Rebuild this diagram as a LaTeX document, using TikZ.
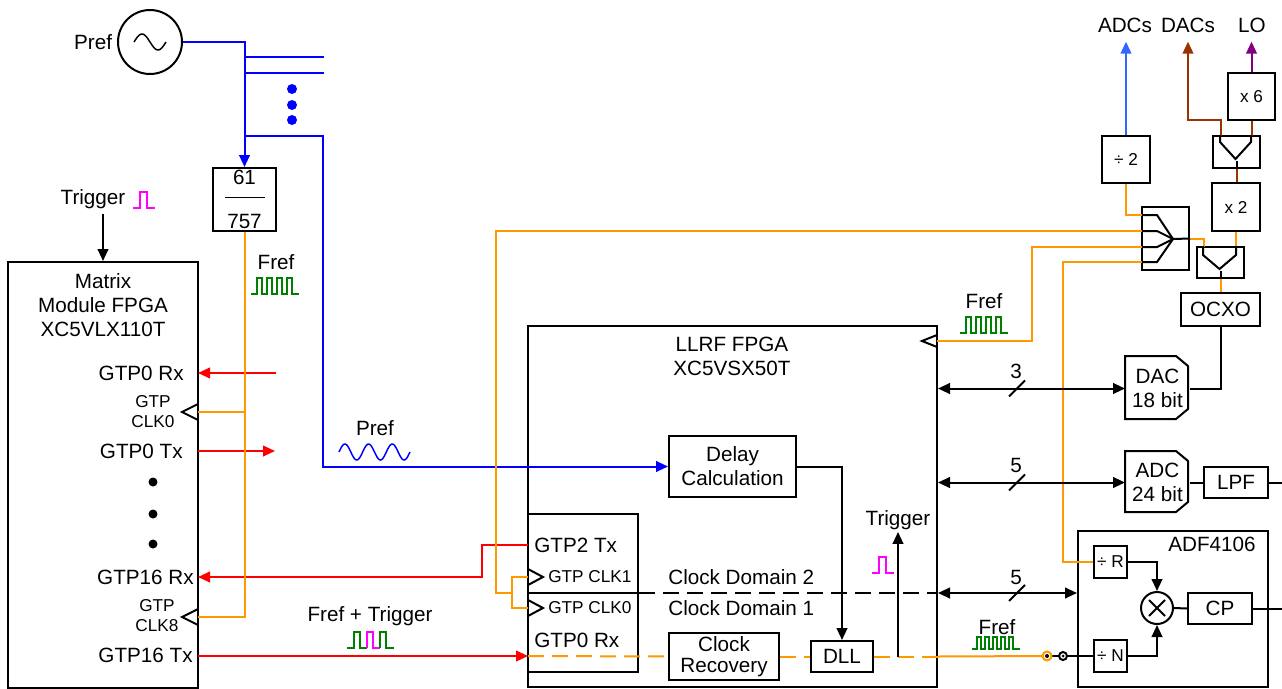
\documentclass[tikz,border=0pt]{standalone}
\usepackage{fontspec}
\setmainfont{Liberation Sans}
\usetikzlibrary{arrows.meta,positioning}

\definecolor{prefblue}{RGB}{0,0,255}
\definecolor{adcblue}{RGB}{51,102,255}
\definecolor{frefor}{RGB}{255,153,0}
\definecolor{gtpred}{RGB}{255,0,0}
\definecolor{clkgreen}{RGB}{0,128,0}
\definecolor{trigmag}{RGB}{255,0,255}
\definecolor{dacbrown}{RGB}{153,51,0}
\definecolor{lopurple}{RGB}{128,0,128}

\tikzset{every picture/.style={line width=1.5pt}}
\tikzset{
	blk/.style={draw, rectangle, inner sep=0pt, align=center},
	lbl/.style={inner sep=1pt, align=center},
	toplbl/.style={inner sep=3pt, outer sep=4pt},
	pinlbl/.style={inner sep=1pt, anchor=east},
	smalltxt/.style={font=\fontsize{12.9}{15}\selectfont},
	ordash/.style={frefor, dash pattern=on 12pt off 6pt},
	blkdash/.style={dash pattern=on 12pt off 6pt},
	refclk/.pic={\draw[clkgreen, line width=1.1pt] (0,0) -- ++(6,0) foreach \i in {1,...,4}{ -- ++(0,16) -- ++(5,0) -- ++(0,-16) -- ++(5,0)} -- ++(2,0);},
	refclkfast/.pic={\draw[clkgreen, line width=1.1pt] (0,0) -- ++(5,0) foreach \i in {1,...,5}{ -- ++(0,12) -- ++(4,0) -- ++(0,-12) -- ++(4,0)} -- ++(3,0);},
	trigpulse/.pic={\draw[trigmag, line width=1.1pt] (0,0) -- (7,0) -- (7,16) -- (14,16) -- (14,0) -- (22,0);}
}

\begin{document}
\begin{tikzpicture}[x=0.75pt,y=0.75pt,yscale=-1,xscale=1,
	font=\fontsize{15.5}{18}\selectfont, >={Triangle[length=9pt,width=8pt]}]
	\useasboundingbox (0,0) rectangle (1282,689);

	%Shape: reference source
	\node[draw, circle, minimum size=48pt, inner sep=0pt] (src) at (150,42) {};
	\draw[line width=1.1pt, domain=0:360, samples=40, smooth] plot ({134+\x/360*32}, {42-8*sin(\x)});
	\node[left=2pt of src, lbl] (preflbl) {Pref};
	%Shape: divider
	\node[blk, minimum size=47.25pt] (frac) at (244.5,199.5) {61\\[15pt]757};
	\draw[line width=1.1pt] (frac.center) ++(-20,-2) -- ++(40,0);

	%Shape: Matrix module
	\node[blk, minimum width=142.5pt, minimum height=319.5pt] (mmf) at (103,475) {};
	\node[lbl] (mmftitle) at (103,305) {Matrix\\Module FPGA\\XC5VLX110T};
	\node[pinlbl] (rx0lbl) at (186,373) {GTP0 Rx};
	\node[lbl, smalltxt] (clk0lbl) at (153,412) {GTP\\CLK0};
	\node[pinlbl] (tx0lbl) at (185,451) {GTP0 Tx};
	\node[pinlbl] (rx16lbl) at (196,577) {GTP16 Rx};
	\node[lbl, smalltxt] (clk8lbl) at (157,616) {GTP\\CLK8};
	\node[pinlbl] (tx16lbl) at (195,655) {GTP16 Tx};
	\foreach \yy in {482,514,544} \fill (153,\yy) circle (4.5);
	\coordinate (mrx0) at (198,373);
	\coordinate (mclk0) at (198,412);
	\coordinate (mtx0) at (198,451);
	\coordinate (mrx16) at (198,577);
	\coordinate (mclk8) at (198,617);
	\coordinate (mtx16) at (198,656);
	\node[lbl] (trigtop) at (93,199) {Trigger};
	\pic at (133,208) {trigpulse};
	\draw[->] (mmf.north |- 0,214) -- (mmf.north);

	%Shape: LLRF FPGA
	\node[blk, minimum width=306.75pt, minimum height=270.75pt] (llrf) at (732.5,506.5) {};
	\node[lbl] (llrftitle) at (732,356) {LLRF FPGA\\XC5VSX50T};
	\node[blk, minimum width=82.5pt, minimum height=118.5pt] (gtp) at (583,593) {};
	\draw (gtp.west) -- (gtp.east);
	\node[lbl, anchor=west] (gtp2tx) at (532,545) {GTP2 Tx};
	\node[lbl, anchor=west, smalltxt] (gclk1) at (546,577) {GTP CLK1};
	\node[lbl, anchor=west, smalltxt] (gclk0) at (546,608) {GTP CLK0};
	\node[lbl, anchor=west] (gtp0rx) at (532,640) {GTP0 Rx};
	\coordinate (ltx2) at (528,545);
	\coordinate (lclk1) at (528,577);
	\coordinate (lclk0) at (528,608);
	\coordinate (lrx0) at (528,656);
	\coordinate (llclk) at (937,341);
	\node[lbl, anchor=west] (dom2) at (666,577) {Clock Domain 2};
	\node[lbl, anchor=west] (dom1) at (666,608) {Clock Domain 1};
	\node[blk, minimum width=95.25pt, minimum height=45.75pt] (delay) at (732.5,466.5) {Delay\\Calculation};
	\node[blk, minimum width=82.5pt, minimum height=35.25pt] (clkrec) at (724,656.5) {Clock\\[-2pt]Recovery};
	\node[blk, minimum width=46.5pt, minimum height=23.25pt] (dll) at (842,656.5) {DLL};
	\node[lbl] (trigll) at (898,520) {Trigger};
	\pic at (872,573) {trigpulse};

	%Shape: clock chain
	\node[blk, minimum width=59.25pt, minimum height=24.75pt] (ocxo) at (1220.5,309.5) {OCXO};
	\node[blk, minimum width=35.25pt, minimum height=23.25pt] (ylow) at (1220.5,262.5) {};
	\node[blk, smalltxt, minimum size=36pt] (x2) at (1236,207) {x 2};
	\node[blk, minimum width=35.25pt, minimum height=24pt] (yup) at (1236.5,152) {};
	\node[blk, smalltxt, minimum size=35.25pt] (x6) at (1251.5,96.5) {x 6};
	\node[blk, smalltxt, minimum width=36pt, minimum height=35.25pt] (div2) at (1126,159.5) {÷ 2};
	\node[blk, minimum width=35.25pt, minimum height=47.25pt] (fan) at (1165.5,238.5) {};
	\coordinate (fin1) at (1142,215);
	\coordinate (fin2) at (1142,231);
	\coordinate (fin3) at (1142,247);
	\coordinate (fin4) at (1142,262);
	\coordinate (fanc) at (1173,239);
	\coordinate (ylowL) at (1204,247);
	\coordinate (yupL) at (1221,136);
	\coordinate (yupR) at (1252,136);
	\node[toplbl] (adcs) at (1125,25) {ADCs};
	\node[toplbl] (dacs) at (1188,25) {DACs};
	\node[toplbl] (lo) at (1252,25) {LO};

	%Shape: converters
	\node[inner sep=0pt, align=center, minimum width=47.25pt, minimum height=47.25pt] (dac) at (1157.5,388.5) {DAC\\18 bit};
	\draw (dac.north west) -- ++(51,0) -- ++(12,10) -- ++(0,43) -- ++(-12,10) -- ++(-51,0) -- cycle;
	\node[inner sep=0pt, align=center, minimum width=47.25pt, minimum height=45.75pt] (adc) at (1157.5,482.5) {ADC\\24 bit};
	\draw (adc.north west) -- ++(51,0) -- ++(12,10) -- ++(0,41) -- ++(-12,10) -- ++(-51,0) -- cycle;
	\node[blk, minimum width=48pt, minimum height=23.25pt] (lpf) at (1236,482.5) {LPF};

	%Shape: ADF4106
	\node[blk, minimum width=142.5pt, minimum height=117pt] (adf) at (1173,609) {};
	\node[lbl] (adflbl) at (1212,544) {ADF4106};
	\node[blk, smalltxt, minimum width=24.75pt, minimum height=24pt] (divR) at (1110.5,562) {÷ R};
	\node[blk, smalltxt, minimum width=24.75pt, minimum height=24pt] (divN) at (1110.5,656) {÷ N};
	\node[draw, circle, minimum size=24pt, inner sep=0pt] (mix) at (1157,608) {};
	\draw (mix.center) ++(-8,-8) -- ++(16,16) ++(0,-16) -- ++(-16,16);
	\node[blk, minimum width=48pt, minimum height=23.25pt] (cp) at (1220,608.5) {CP};
	\coordinate (ptA) at (1047,656);
	\coordinate (ptB) at (1063,656);

	% Pref distribution
	\draw[prefblue, ->] (src.east) -| (frac.north);
	\draw[prefblue] (244.5,57) -- (324,57);
	\draw[prefblue] (244.5,73) -- (324,73);
	\foreach \yy in {89,105,120} \fill[prefblue] (292,\yy) circle (5);
	\draw[prefblue, ->] (244.5,136) -- (323,136) |- (delay.west);
	\node[lbl] (preflbl2) at (375,428) {Pref};
	\draw[prefblue, line width=1.1pt, domain=0:1080, samples=90, smooth] plot ({339+\x/1080*71}, {452-8*sin(\x)});

	% GTP links
	\draw[gtpred, <-] (mrx0) -- ++(78,0);
	\draw[gtpred, ->] (mtx0) -- ++(77,0);
	\draw[gtpred, ->] (ltx2) -- (482,545) |- (mrx16);
	\draw[gtpred, ->] (mtx16) -- (lrx0);
	\node[lbl] (frtrig) at (370,616) {Fref + Trigger};
	\draw[clkgreen, line width=1.1pt] (347,648) -- ++(7,0) -- ++(0,-16) -- ++(6,0) -- ++(0,16) -- ++(7,0);
	\draw[trigmag, line width=1.1pt] (367,648) -- ++(0,-16) -- ++(6,0) -- ++(0,16) -- ++(7,0);
	\draw[clkgreen, line width=1.1pt] (380,648) -- ++(0,-16) -- ++(6,0) -- ++(0,16) -- ++(8,0);

	% Fref distribution
	\draw[frefor] (frac.south) |- (mclk8);
	\draw[frefor] (frac.south |- mclk0) -- (mclk0);
	\node[lbl] (fref1) at (276,262) {Fref};
	\pic at (251,294) {refclk};
	\draw[frefor] (fin2) -| (496,593) -- (512,593);
	\draw[frefor] (lclk1) -- (512,577) -- (512,608) -- (lclk0);
	\draw[frefor] (llclk) -- (1032,341) |- (fin3);
	\node[lbl] (fref2) at (984,301) {Fref};
	\pic at (960,333) {refclk};
	\draw[frefor] (fin4) -- (1063,262) |- (divR.west);
	\draw[frefor] (div2.south) |- (fin1);
	\draw[frefor] (fan.east) -| (ylowL);
	\draw[frefor] (x2.south) -- (x2.south |- ylow.north);
	\draw[frefor] (ylow.south) -- (ocxo.north);
	\draw[dacbrown] (yup.south) -- (yup.south |- x2.north);
	\draw[dacbrown] (yupR) -- (yupR |- x6.south);
	\draw[dacbrown, ->] (yupL) -- (1221,120) -| (dacs.south);
	\draw[lopurple, ->] (x6.north) -- (x6.north |- lo.south);
	\draw[adcblue, ->] (div2.north) -- (div2.north |- adcs.south);

	% inside LLRF
	\draw[ordash] (lrx0) -- (clkrec.west);
	\draw[ordash] (clkrec.east) -- (dll.west);
	\draw[ordash] (dll.east) -- (llrf.east |- dll.east);
	\draw[frefor] (llrf.east |- dll.east) -- (ptA);
	\draw (ptA) -- (divN.west);
	\draw[blkdash] (gtp.east) -- (llrf.east |- gtp.east);
	\draw[->] (delay.east) -| (dll.north);
	\draw[->] (trigll.south |- dll.east) -- (trigll.south);
	\node[lbl] (fref3) at (997,627) {Fref};
	\pic at (972,649) {refclkfast};

	% buses
	\draw[<->] (llrf.east |- dac.west) -- (dac.west);
	\draw (llrf.east |- dac.west) ++(71,8) -- ++(16,-16);
	\node[lbl] (w3) at (1016,371) {3};
	\draw[<->] (llrf.east |- adc.west) -- (adc.west);
	\draw (llrf.east |- adc.west) ++(71,8) -- ++(16,-16);
	\node[lbl] (w5a) at (1016,465) {5};
	\draw[<->] (llrf.east |- gtp.east) -- (adf.west |- gtp.east);
	\draw (llrf.east |- gtp.east) ++(71,8) -- ++(16,-16);
	\node[lbl] (w5b) at (1016,577) {5};
	\draw (ocxo.south) |- (dac.east);
	\draw (adc.east) -- (lpf.west);
	\draw (lpf.east) -- (1282,482.5);
	\draw[->] (divR.east) -| (mix.north);
	\draw[->] (divN.east) -| (mix.south);
	\draw (mix.east) -- (cp.west);
	\draw (cp.east) -- (1282,608.5);

	% clock pins and splitters
	\foreach \c in {mclk0,mclk8} \draw (\c) ++(0,-8) -- ++(-16,8) -- ++(16,8);
	\foreach \c in {lclk1,lclk0} \draw (\c) ++(0,-8) -- ++(15,8) -- ++(-15,8);
	\draw (llclk) ++(0,-6) -- ++(-15,6) -- ++(15,6);
	\foreach \yy in {215,231,247,262} \draw (1142,\yy) -- (1157,\yy) -- (fanc);
	\draw (fanc) -- (fan.east);
	\draw (ylow.north west) ++(7,0) -- ++(0,9) -- ++(16.5,14) -- ++(16.5,-14) -- ++(0,-9);
	\draw (ylow.south) -- ++(0,-8);
	\draw (yup.north west) ++(8,0) -- ++(0,7) -- ++(15.5,17) -- ++(15.5,-17) -- ++(0,-7);
	\draw (yup.south) -- ++(0,-8);
	\draw[frefor, fill=white] (ptA) circle (4.5);
	\fill (ptA) circle (2);
	\draw[fill=white] (ptB) circle (4);
	\fill (ptB) circle (1.5);

\end{tikzpicture}
\end{document}
